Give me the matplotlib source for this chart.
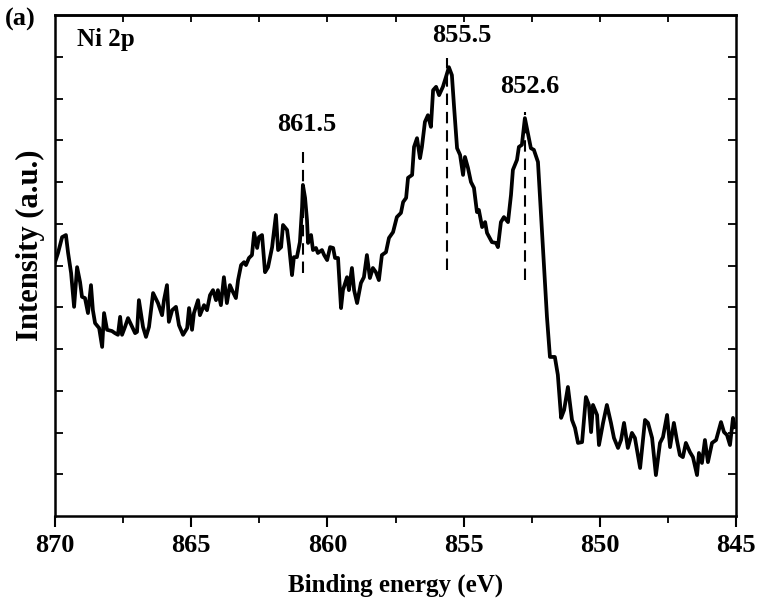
import matplotlib
matplotlib.use('Agg')
import matplotlib.pyplot as plt
import numpy as np

plt.rcParams['font.family'] = ['Liberation Serif', 'DejaVu Serif']
plt.rcParams['font.weight'] = 'bold'

# Ni 2p spectrum (binding energy in eV, intensity in a.u.)
energy = [870.00, 869.89, 869.74, 869.60, 869.52, 869.41, 869.30, 869.19, 869.08, 869.01,
          868.90, 868.79, 868.68, 868.61, 868.53, 868.38, 868.27, 868.20, 868.09, 867.91,
          867.80, 867.69, 867.61, 867.54, 867.43, 867.32, 867.17, 867.06, 866.99, 866.92,
          866.77, 866.66, 866.55, 866.40, 866.22, 866.07, 866.00, 865.89, 865.82, 865.70,
          865.56, 865.45, 865.30, 865.15, 865.08, 864.97, 864.90, 864.75, 864.68, 864.53,
          864.42, 864.31, 864.20, 864.09, 864.02, 863.91, 863.80, 863.69, 863.58, 863.50,
          863.36, 863.28, 863.17, 863.06, 862.99, 862.88, 862.77, 862.69, 862.58, 862.51,
          862.40, 862.29, 862.18, 862.03, 862.00, 861.89, 861.81, 861.70, 861.63, 861.48,
          861.41, 861.30, 861.23, 861.12, 861.01, 860.93, 860.90, 860.82, 860.75, 860.71,
          860.60, 860.53, 860.42, 860.35, 860.20, 860.12, 860.01, 859.90, 859.79, 859.72,
          859.61, 859.50, 859.43, 859.28, 859.21, 859.10, 859.02, 858.91, 858.77, 858.66,
          858.55, 858.44, 858.33, 858.22, 858.11, 858.00, 857.85, 857.74, 857.59, 857.45,
          857.30, 857.22, 857.11, 857.04, 856.89, 856.82, 856.71, 856.60, 856.53, 856.42,
          856.31, 856.20, 856.12, 856.01, 855.90, 855.76, 855.65, 855.54, 855.43, 855.35,
          855.24, 855.13, 855.02, 854.95, 854.84, 854.73, 854.62, 854.51, 854.44, 854.32,
          854.21, 854.14, 853.96, 853.81, 853.74, 853.63, 853.52, 853.37, 853.26, 853.19,
          853.04, 852.97, 852.86, 852.75, 852.64, 852.53, 852.42, 852.27, 852.12, 851.94,
          851.83, 851.65, 851.54, 851.42, 851.31, 851.17, 851.02, 850.91, 850.80, 850.65,
          850.51, 850.40, 850.32, 850.25, 850.10, 850.03, 849.88, 849.74, 849.59, 849.48,
          849.33, 849.22, 849.11, 848.97, 848.82, 848.71, 848.52, 848.34, 848.23, 848.08,
          847.94, 847.79, 847.68, 847.53, 847.42, 847.28, 847.17, 847.06, 846.95, 846.84,
          846.69, 846.58, 846.43, 846.36, 846.25, 846.14, 846.03, 845.88, 845.73, 845.55,
          845.44, 845.33, 845.22, 845.11, 845.04]
intensity = [6.08, 6.30, 6.68, 6.73, 6.30, 5.82, 5.01, 5.96, 5.60, 5.25,
             5.22, 4.86, 5.53, 4.93, 4.62, 4.50, 4.05, 4.86, 4.46, 4.43,
             4.38, 4.34, 4.77, 4.34, 4.53, 4.74, 4.53, 4.38, 4.41, 5.17,
             4.53, 4.29, 4.53, 5.34, 5.10, 4.81, 5.17, 5.53, 4.65, 4.93,
             5.01, 4.57, 4.34, 4.50, 4.98, 4.46, 4.86, 5.17, 4.81, 5.05,
             4.93, 5.29, 5.41, 5.17, 5.41, 5.05, 5.72, 5.10, 5.53, 5.41,
             5.22, 5.65, 6.01, 6.08, 6.01, 6.18, 6.25, 6.78, 6.42, 6.68,
             6.73, 5.84, 5.96, 6.44, 6.61, 7.21, 6.37, 6.44, 6.97, 6.85,
             6.49, 5.77, 6.20, 6.20, 6.56, 7.40, 7.93, 7.62, 7.09, 6.54,
             6.73, 6.37, 6.42, 6.30, 6.37, 6.25, 6.13, 6.44, 6.42, 6.18,
             6.18, 4.98, 5.41, 5.72, 5.41, 5.94, 5.41, 5.10, 5.58, 5.72,
             6.25, 5.70, 5.94, 5.84, 5.65, 6.25, 6.32, 6.66, 6.80, 7.16,
             7.26, 7.52, 7.62, 8.10, 8.17, 8.84, 9.05, 8.57, 8.84, 9.44,
             9.60, 9.32, 10.20, 10.28, 10.08, 10.28, 10.51, 10.75, 10.56, 9.80,
             8.81, 8.65, 8.17, 8.60, 8.34, 8.00, 7.86, 7.28, 7.33, 6.92,
             7.04, 6.78, 6.56, 6.54, 6.44, 7.04, 7.16, 7.04, 7.69, 8.29,
             8.53, 8.84, 8.89, 9.53, 9.17, 8.81, 8.77, 8.48, 6.78, 4.77,
             3.81, 3.81, 3.38, 2.35, 2.54, 3.09, 2.30, 2.11, 1.75, 1.77,
             2.85, 2.66, 2.01, 2.66, 2.42, 1.70, 2.23, 2.66, 2.23, 1.87,
             1.63, 1.82, 2.23, 1.63, 1.99, 1.87, 1.15, 2.30, 2.23, 1.87,
             0.98, 1.75, 1.89, 2.42, 1.65, 2.23, 1.82, 1.46, 1.41, 1.75,
             1.53, 1.41, 0.98, 1.51, 1.27, 1.82, 1.29, 1.75, 1.82, 2.25,
             2.01, 1.94, 1.70, 2.35, 2.13]

# peak markers: line position, dashed line extent, label position
peak_labels = ['861.5', '855.5', '852.6']
peak_x = [860.90, 855.61, 852.75]
peak_ymin = [5.82, 5.89, 5.65]
peak_ymax = [8.72, 10.97, 9.68]
label_x = [860.75, 855.06, 852.56]
label_y = [9.37, 11.52, 10.28]

fig = plt.figure(figsize=(7.6, 6.05), dpi=100)
ax = fig.add_axes([0.0724, 0.1471, 0.8960, 0.8281])

ax.plot(energy, intensity, color='black', lw=2.7)

for x, y0, y1 in zip(peak_x, peak_ymin, peak_ymax):
    ax.plot([x, x], [y0, y1], color='black', lw=1.5, linestyle=(0, (5.5, 3.3)))
for t, x, y in zip(peak_labels, label_x, label_y):
    ax.text(x, y, t, ha='center', va='center', fontsize=19, fontweight='bold')

ax.set_xlim(870, 845)
ax.set_ylim(0, 12)

ax.set_xticks(np.arange(870, 844, -5))
ax.set_xticks(np.arange(867.5, 845, -5), minor=True)
ax.set_yticks(np.arange(1, 12, 1))
ax.set_yticklabels([])

ax.tick_params(axis='x', which='major', direction='out', length=8, width=1.5,
               labelsize=19, pad=5)
ax.tick_params(axis='x', which='minor', direction='out', length=5, width=1.3)
ax.tick_params(axis='y', which='major', direction='in', length=6, width=1.3,
               left=True, right=True)

top = ax.secondary_xaxis('top')
top.set_xticks(np.arange(867.5, 845, -2.5))
top.tick_params(direction='in', length=5, width=1.3, labeltop=False)
top.spines['top'].set_linewidth(1.8)

for s in ax.spines.values():
    s.set_linewidth(1.8)

for lab in ax.get_xticklabels():
    lab.set_fontweight('bold')

ax.set_xlabel('Binding energy (eV)', fontsize=18, fontweight='bold', labelpad=12)
ax.set_ylabel('Intensity (a.u.)', fontsize=22, fontweight='bold')
ax.yaxis.set_label_coords(-0.014, 0.54)

ax.text(0.032, 0.952, 'Ni 2p', transform=ax.transAxes, ha='left', va='center',
        fontsize=18, fontweight='bold')
fig.text(0.006, 0.968, '(a)', ha='left', va='center', fontsize=19, fontweight='bold')

fig.savefig('out.png', dpi=100)
